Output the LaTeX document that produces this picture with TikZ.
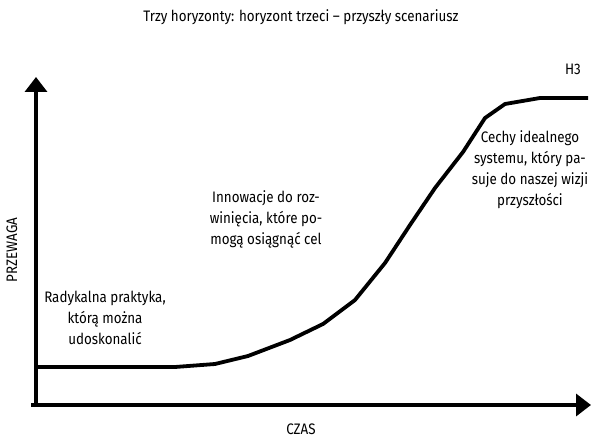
\documentclass[tikz,border=0pt]{standalone}
\usepackage{fontspec}
\setmainfont{Fira Sans}[FakeStretch=0.88]
\usetikzlibrary{arrows.meta}
\begin{document}
\begin{tikzpicture}[x=1pt,y=-1pt,
  lbl/.style={font=\fontsize{15.2}{21}\selectfont, align=center, inner sep=0pt},
  axis/.style={line width=3.5pt, -{Triangle[length=15pt,width=22pt]}},
  curve/.style={line width=3.8pt, line join=round}]
\useasboundingbox (0,0) rectangle (602,438);
\node[lbl] (title) at (301,17) {Trzy horyzonty: horyzont trzeci – przyszły scenariusz};
\coordinate (o) at (36,405);
\coordinate (ytip) at (36,77);
\coordinate (xtip) at (591,405);
\draw[axis] (36,407) -- (ytip);
\draw[axis] (31,405) -- (xtip);
\draw[curve] (36,367) -- (175,367) -- (215,364) -- (248,356) -- (290,340)
  -- (323,324) -- (355,300) -- (385,263) -- (410,225) -- (435,188)
  -- (463,152) -- (485,118) -- (505,104) -- (540,98) -- (588,98);
\node[lbl] (h3) at (573,69) {H3};
\node[lbl, rotate=90] (yl) at (12,250) {PRZEWAGA};
\node[lbl] (xl) at (301,429) {CZAS};
\node[lbl] (a) at (105,318) {Radykalna praktyka,\\którą można\\udoskonalić};
\node[lbl] (b) at (266,219) {Innowacje do roz-\\winięcia, które po-\\mogą osiągnąć cel};
\node[lbl] (c) at (530,170) {Cechy idealnego\\systemu, który pa-\\suje do naszej wizji\\przyszłości};
\end{tikzpicture}
\end{document}
